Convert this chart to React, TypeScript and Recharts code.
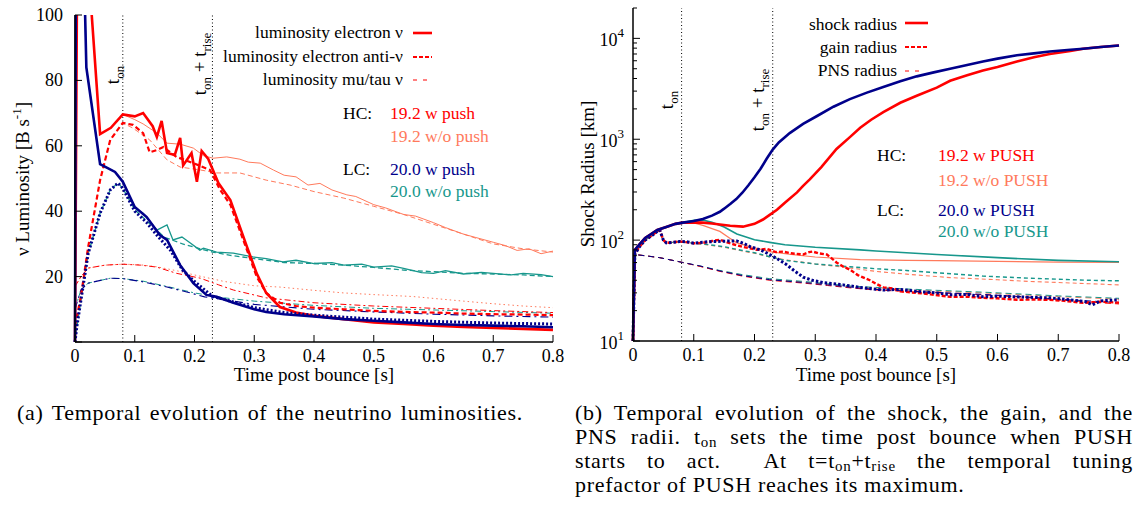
import React from "react";
import { LineChart, Line, XAxis, YAxis, ReferenceLine } from "recharts";

type Pt = [number, number];

const RED = "#ff0000";
const SALMON = "#ff7a5c";
const NAVY = "#00008b";
const TEAL = "#17978c";
const FONT = "Liberation Serif, Tinos, DejaVu Serif, serif";

const T_ON = 0.08;
const T_RISE_END = 0.23;

const timeTicks = [0, 0.1, 0.2, 0.3, 0.4, 0.5, 0.6, 0.7, 0.8];
const lumTicks = [0, 20, 40, 60, 80, 100];
const radTicks = [
  10, 20, 30, 40, 50, 60, 70, 80, 90,
  100, 200, 300, 400, 500, 600, 700, 800, 900,
  1000, 2000, 3000, 4000, 5000, 6000, 7000, 8000, 9000,
  10000, 20000,
];

// (a) luminosities [B/s]; before t_on the runs with and without push coincide
const nueHcEarly: Pt[] = [[0, 0], [0.004, 130], [0.02, 121], [0.028, 100], [0.042, 63.6], [0.06, 65.5], [0.08, 69.6]];
const nueHcPush: Pt[] = [...nueHcEarly, [0.1, 69], [0.114, 70], [0.13, 66], [0.137, 62.7], [0.145, 67.6], [0.154, 57.8], [0.167, 57.2], [0.176, 62.4], [0.181, 54], [0.195, 57.8], [0.204, 49], [0.212, 58.4], [0.223, 56], [0.24, 48.6], [0.26, 43.4], [0.288, 29], [0.304, 21], [0.32, 15], [0.343, 10.7], [0.37, 9], [0.4, 8], [0.45, 7], [0.5, 6], [0.55, 5.5], [0.6, 5], [0.65, 4.6], [0.7, 4.3], [0.75, 4], [0.8, 3.7]];
const nueHcNo: Pt[] = [...nueHcEarly, [0.1, 68], [0.114, 66.7], [0.137, 63.9], [0.154, 60.8], [0.176, 60.5], [0.198, 59.3], [0.215, 57], [0.231, 56.2], [0.254, 56.6], [0.276, 55.9], [0.29, 55], [0.31, 54.7], [0.332, 52.6], [0.35, 51], [0.37, 50.5], [0.39, 48], [0.41, 48.5], [0.43, 46.5], [0.455, 45], [0.47, 44.5], [0.5, 42], [0.52, 41], [0.55, 39], [0.57, 38.5], [0.6, 36.5], [0.62, 35], [0.65, 33], [0.67, 32], [0.7, 30.5], [0.72, 29.5], [0.74, 28], [0.76, 28.5], [0.78, 27], [0.8, 27.8]];

const nuebHcEarly: Pt[] = [[0, 5], [0.01, 14], [0.022, 29], [0.042, 49.5], [0.059, 61.8], [0.08, 67]];
const nuebHcPush: Pt[] = [...nuebHcEarly, [0.097, 66.4], [0.114, 63.9], [0.125, 58], [0.137, 58.7], [0.148, 59.6], [0.17, 56.6], [0.198, 54.7], [0.226, 52.6], [0.243, 46.5], [0.26, 42], [0.288, 28], [0.304, 20], [0.32, 15], [0.343, 12], [0.37, 11], [0.4, 10.5], [0.45, 10], [0.5, 9.5], [0.55, 9.2], [0.6, 9], [0.65, 8.7], [0.7, 8.5], [0.75, 8.4], [0.8, 8.2]];
const nuebHcNo: Pt[] = [...nuebHcEarly, [0.097, 65.4], [0.125, 61.8], [0.154, 55.7], [0.176, 53.5], [0.21, 52.6], [0.237, 51.7], [0.276, 51.7], [0.32, 49.5], [0.36, 48], [0.4, 46], [0.45, 44], [0.5, 41.5], [0.55, 39], [0.6, 36], [0.65, 33], [0.7, 30], [0.75, 28.5], [0.8, 27.5]];

const nuxHcEarly: Pt[] = [[0, 17], [0.01, 20], [0.022, 22.6], [0.05, 23.5], [0.08, 23.8]];
const nuxHcPush: Pt[] = [...nuxHcEarly, [0.11, 23.5], [0.137, 22.9], [0.17, 21], [0.21, 19.5], [0.24, 17.5], [0.265, 15.9], [0.32, 13.5], [0.4, 12], [0.5, 11], [0.6, 10.3], [0.7, 9.6], [0.8, 9]];
const nuxHcNo: Pt[] = [...nuxHcEarly, [0.11, 23.6], [0.137, 23], [0.17, 21.8], [0.2, 20.5], [0.25, 18.5], [0.3, 17.2], [0.343, 16.8], [0.4, 15.8], [0.45, 15], [0.5, 14.5], [0.566, 13.9], [0.65, 12.5], [0.7, 11.7], [0.75, 11], [0.8, 10.5]];

const nueLcEarly: Pt[] = [[0, 0], [0.002, 160], [0.015, 115], [0.019, 84], [0.042, 54.4], [0.067, 52], [0.08, 49]];
const nueLcPush: Pt[] = [...nueLcEarly, [0.1, 41.3], [0.12, 38.2], [0.142, 32.7], [0.154, 31.2], [0.176, 23.5], [0.198, 18], [0.22, 14.4], [0.237, 13.8], [0.265, 12], [0.3, 10], [0.32, 9.2], [0.35, 8.5], [0.4, 7.8], [0.45, 7], [0.5, 6.5], [0.55, 6], [0.6, 5.5], [0.65, 5.2], [0.7, 5], [0.75, 4.8], [0.8, 4.5]];
const nueLcNo: Pt[] = [...nueLcEarly, [0.1, 41], [0.114, 39.4], [0.137, 34.2], [0.154, 35.8], [0.164, 31.2], [0.179, 32.1], [0.193, 30.3], [0.209, 28.1], [0.215, 28.7], [0.237, 27.5], [0.265, 27.2], [0.298, 26], [0.32, 25.5], [0.348, 24.5], [0.37, 25], [0.4, 24], [0.43, 24.3], [0.45, 23.5], [0.48, 23.8], [0.5, 22.9], [0.53, 23.3], [0.55, 22.5], [0.58, 21.2], [0.6, 21], [0.62, 21.8], [0.65, 20.8], [0.68, 21.3], [0.7, 21], [0.73, 20.5], [0.75, 21], [0.78, 20.6], [0.8, 20]];

const nuebLcEarly: Pt[] = [[0, 0], [0.003, 4.6], [0.022, 27], [0.042, 39.4], [0.059, 46.5], [0.072, 48.6], [0.08, 47]];
const nuebLcPush: Pt[] = [...nuebLcEarly, [0.1, 40], [0.12, 36.5], [0.14, 32], [0.16, 28], [0.18, 22], [0.2, 18.5], [0.23, 14], [0.26, 12.5], [0.3, 10.5], [0.35, 9], [0.4, 8.2], [0.5, 7], [0.6, 6.3], [0.7, 5.8], [0.8, 5.5]];
const nuebLcNo: Pt[] = [...nuebLcEarly, [0.1, 40.5], [0.12, 37], [0.15, 32], [0.18, 30], [0.2, 29], [0.23, 27.5], [0.26, 26.5], [0.3, 25.5], [0.35, 24.3], [0.4, 24], [0.45, 23.5], [0.5, 22.8], [0.55, 22], [0.6, 21.5], [0.65, 21], [0.7, 20.8], [0.75, 20.5], [0.8, 20]];

const nuxLcEarly: Pt[] = [[0, 10], [0.01, 16], [0.022, 18], [0.059, 19.5], [0.08, 19.4]];
const nuxLcPush: Pt[] = [...nuxLcEarly, [0.114, 18.4], [0.154, 16.8], [0.187, 15.3], [0.217, 13.8], [0.265, 12.5], [0.3, 11.5], [0.4, 10], [0.5, 9.2], [0.6, 8.5], [0.7, 8], [0.8, 7.6]];
const nuxLcNo: Pt[] = [...nuxLcEarly, [0.114, 18.6], [0.154, 17], [0.2, 15], [0.25, 13.5], [0.3, 12.5], [0.4, 11.2], [0.5, 10.3], [0.6, 9.8], [0.7, 9.3], [0.8, 8.8]];

// (b) radii [km]
const shockEarly: Pt[] = [[0, 10], [0.003, 80], [0.01, 90], [0.02, 105], [0.028, 113], [0.04, 126], [0.056, 136], [0.07, 145], [0.082, 149]];
const shockHcPush: Pt[] = [...shockEarly, [0.1, 150], [0.115, 149], [0.13, 146], [0.143, 143], [0.16, 139], [0.181, 136], [0.2, 145], [0.214, 160], [0.225, 178], [0.237, 200], [0.25, 235], [0.27, 297], [0.28, 345], [0.291, 400], [0.31, 530], [0.335, 800], [0.357, 1050], [0.374, 1300], [0.392, 1560], [0.412, 1860], [0.44, 2300], [0.467, 2700], [0.5, 3250], [0.522, 3800], [0.55, 4300], [0.576, 4800], [0.6, 5200], [0.632, 5900], [0.66, 6500], [0.686, 7000], [0.72, 7500], [0.741, 7900], [0.77, 8200], [0.8, 8500]];
const shockLcPush: Pt[] = [...shockEarly, [0.1, 155], [0.115, 162], [0.13, 175], [0.143, 191], [0.15, 205], [0.16, 228], [0.17, 255], [0.18, 295], [0.19, 350], [0.2, 420], [0.21, 510], [0.22, 640], [0.23, 790], [0.24, 930], [0.258, 1150], [0.28, 1420], [0.303, 1700], [0.33, 2100], [0.357, 2500], [0.385, 2900], [0.412, 3300], [0.44, 3750], [0.467, 4200], [0.495, 4600], [0.522, 5000], [0.55, 5450], [0.576, 5900], [0.6, 6300], [0.632, 6800], [0.66, 7100], [0.686, 7400], [0.72, 7700], [0.741, 7900], [0.77, 8200], [0.8, 8500]];
const shockHcNo: Pt[] = [...shockEarly, [0.1, 148], [0.115, 140], [0.13, 130], [0.143, 122], [0.16, 104], [0.171, 94], [0.2, 84], [0.225, 77], [0.26, 72], [0.3, 68], [0.374, 64], [0.45, 63], [0.5, 62.5], [0.6, 61.5], [0.7, 60.5], [0.8, 60]];
const shockLcNo: Pt[] = [...shockEarly, [0.1, 157], [0.115, 158], [0.13, 150], [0.15, 135], [0.171, 115], [0.2, 101], [0.225, 95], [0.25, 90], [0.3, 85], [0.374, 80], [0.4, 78], [0.5, 72], [0.6, 67], [0.7, 63], [0.8, 61]];

const gainEarly: Pt[] = [[0, 10], [0.003, 72], [0.01, 85], [0.02, 100], [0.03, 110], [0.04, 122], [0.044, 126], [0.05, 100], [0.055, 94], [0.065, 95], [0.077, 97]];
const gainHcPush: Pt[] = [...gainEarly, [0.09, 95], [0.1, 93], [0.115, 94], [0.13, 98], [0.143, 101], [0.155, 95], [0.165, 91], [0.18, 86], [0.204, 80], [0.22, 82], [0.235, 76], [0.247, 77], [0.26, 74], [0.28, 72], [0.29, 76], [0.296, 77], [0.305, 74], [0.319, 72], [0.327, 66], [0.335, 60], [0.345, 55], [0.357, 51], [0.37, 45], [0.39, 40], [0.4, 37], [0.412, 34], [0.43, 33], [0.44, 31], [0.467, 30], [0.49, 29], [0.522, 27.4], [0.55, 27.5], [0.576, 26.8], [0.6, 26.5], [0.632, 25.6], [0.66, 25.8], [0.686, 25.6], [0.71, 25], [0.741, 23.9], [0.77, 24.5], [0.8, 24]];
const gainLcPush: Pt[] = [...gainEarly, [0.09, 96], [0.1, 93], [0.12, 96], [0.14, 97], [0.16, 98], [0.171, 98], [0.182, 93], [0.193, 86], [0.21, 80], [0.225, 72], [0.24, 64], [0.253, 57], [0.265, 50], [0.28, 43], [0.295, 40], [0.313, 38], [0.33, 37], [0.346, 36], [0.374, 34], [0.412, 32], [0.44, 32.5], [0.467, 31], [0.5, 30], [0.522, 28.7], [0.55, 29], [0.576, 27.4], [0.6, 27.8], [0.632, 27.4], [0.66, 27], [0.686, 26.8], [0.72, 25.6], [0.745, 24.5], [0.756, 22.8], [0.77, 25], [0.8, 25.6]];
const gainHcNo: Pt[] = [...gainEarly, [0.09, 95], [0.1, 93], [0.12, 90], [0.15, 85], [0.18, 78], [0.2, 74], [0.225, 68], [0.25, 64], [0.3, 58], [0.357, 53], [0.4, 49], [0.45, 46], [0.522, 42.5], [0.6, 40.5], [0.65, 39], [0.7, 38], [0.75, 37], [0.8, 36]];
const gainLcNo: Pt[] = [...gainEarly, [0.09, 95], [0.1, 93], [0.12, 91], [0.15, 86], [0.18, 79], [0.2, 75], [0.225, 68.5], [0.25, 63], [0.3, 58], [0.357, 54.5], [0.4, 52], [0.45, 50], [0.5, 47.5], [0.576, 44], [0.65, 42], [0.7, 41], [0.75, 40], [0.8, 39.5]];

const pnsEarly: Pt[] = [[0, 10], [0.003, 72], [0.02, 70], [0.044, 67], [0.082, 60]];
const pnsHcPush: Pt[] = [...pnsEarly, [0.11, 55], [0.143, 49], [0.18, 44], [0.225, 40], [0.28, 37.5], [0.32, 35.5], [0.36, 33.5], [0.4, 32], [0.45, 31], [0.5, 30], [0.576, 28.7], [0.65, 27], [0.7, 25.5], [0.8, 23.3]];
const pnsLcPush: Pt[] = [...pnsEarly, [0.11, 55.5], [0.143, 49.5], [0.18, 44.5], [0.225, 40.5], [0.28, 38], [0.32, 36], [0.36, 34], [0.4, 32.5], [0.45, 31.3], [0.5, 30.3], [0.576, 29], [0.65, 27.3], [0.7, 26], [0.8, 24]];
const pnsHcNo: Pt[] = [...pnsEarly, [0.11, 55], [0.143, 49.5], [0.18, 45], [0.225, 41], [0.28, 38.5], [0.32, 36.5], [0.36, 34.5], [0.4, 33.5], [0.45, 32.3], [0.5, 31.2], [0.576, 30], [0.65, 28.5], [0.7, 27.5], [0.8, 26]];
const pnsLcNo: Pt[] = [...pnsEarly, [0.11, 55.5], [0.143, 50], [0.18, 45.5], [0.225, 41.5], [0.28, 39], [0.32, 37], [0.36, 35], [0.4, 34], [0.45, 32.8], [0.5, 31.8], [0.576, 30.5], [0.65, 29], [0.7, 28], [0.8, 26.5]];

interface SeriesSpec {
  key: string;
  data: Pt[];
  color: string;
  width: number;
  dash?: string;
}

// drawn in this order, thin lines first
const lumSeries: SeriesSpec[] = [
  { key: "nuxHcNo", data: nuxHcNo, color: SALMON, width: 1, dash: "1.5 3" },
  { key: "nuxLcNo", data: nuxLcNo, color: TEAL, width: 1, dash: "6 3 2 3" },
  { key: "nuxHcPush", data: nuxHcPush, color: RED, width: 1, dash: "6 3 2 3" },
  { key: "nuxLcPush", data: nuxLcPush, color: NAVY, width: 1.1, dash: "8 4 2 4" },
  { key: "nuebHcNo", data: nuebHcNo, color: SALMON, width: 1, dash: "5 3" },
  { key: "nueHcNo", data: nueHcNo, color: SALMON, width: 1 },
  { key: "nuebLcNo", data: nuebLcNo, color: TEAL, width: 1.3, dash: "5 3" },
  { key: "nueLcNo", data: nueLcNo, color: TEAL, width: 1.3 },
  { key: "nuebHcPush", data: nuebHcPush, color: RED, width: 2.2, dash: "5 3" },
  { key: "nueHcPush", data: nueHcPush, color: RED, width: 2.6 },
  { key: "nuebLcPush", data: nuebLcPush, color: NAVY, width: 3, dash: "2 2" },
  { key: "nueLcPush", data: nueLcPush, color: NAVY, width: 2.6 },
];

const radSeries: SeriesSpec[] = [
  { key: "pnsHcNo", data: pnsHcNo, color: SALMON, width: 1, dash: "6 4" },
  { key: "pnsLcNo", data: pnsLcNo, color: TEAL, width: 1, dash: "6 4" },
  { key: "pnsHcPush", data: pnsHcPush, color: RED, width: 1, dash: "6 4" },
  { key: "pnsLcPush", data: pnsLcPush, color: NAVY, width: 1, dash: "6 4" },
  { key: "gainHcNo", data: gainHcNo, color: SALMON, width: 1.1, dash: "4 3" },
  { key: "gainLcNo", data: gainLcNo, color: TEAL, width: 1.4, dash: "4 3" },
  { key: "shockHcNo", data: shockHcNo, color: SALMON, width: 1.2 },
  { key: "shockLcNo", data: shockLcNo, color: TEAL, width: 1.6 },
  { key: "gainHcPush", data: gainHcPush, color: RED, width: 2.4, dash: "4 2" },
  { key: "gainLcPush", data: gainLcPush, color: NAVY, width: 3, dash: "2.5 2" },
  { key: "shockHcPush", data: shockHcPush, color: RED, width: 2.6 },
  { key: "shockLcPush", data: shockLcPush, color: NAVY, width: 2.6 },
];

const toRows = (pts: Pt[]) => pts.map(([t, v]) => ({ t, v }));

const FRAME = { stroke: "#000", strokeWidth: 1.5 };
const GUIDE_DASH = "1 2.5";

function BottomTick(props: any) {
  const { x, y, payload } = props;
  return (
    <g>
      <line x1={x} x2={x} y1={y} y2={y - 7} stroke="#000" />
      <text x={x} y={y + 20} textAnchor="middle" fontFamily={FONT} fontSize={18} fill="#000">
        {payload.value}
      </text>
    </g>
  );
}

function TopTick(props: any) {
  const { x, y } = props;
  return <line x1={x} x2={x} y1={y} y2={y + 7} stroke="#000" />;
}

function LinLeftTick(props: any) {
  const { x, y, payload } = props;
  return (
    <g>
      <line x1={x} x2={x + 7} y1={y} y2={y} stroke="#000" />
      {payload.value !== 0 && (
        <text x={x - 12} y={y + 6} textAnchor="end" fontFamily={FONT} fontSize={18} fill="#000">
          {payload.value}
        </text>
      )}
    </g>
  );
}

function LinRightTick(props: any) {
  const { x, y } = props;
  return <line x1={x} x2={x - 7} y1={y} y2={y} stroke="#000" />;
}

const isDecade = (v: number) => {
  const e = Math.log10(v);
  return Math.abs(e - Math.round(e)) < 1e-9;
};

function LogLeftTick(props: any) {
  const { x, y, payload } = props;
  const v = payload.value as number;
  const major = isDecade(v);
  return (
    <g>
      <line x1={x} x2={x + (major ? 7 : 4)} y1={y} y2={y} stroke="#000" />
      {major && (
        <text x={x - 9} y={y + 8} textAnchor="end" fontFamily={FONT} fontSize={18} fill="#000">
          <tspan>10</tspan>
          <tspan dy={-9} fontSize={13}>{Math.round(Math.log10(v))}</tspan>
        </text>
      )}
    </g>
  );
}

function LogRightTick(props: any) {
  const { x, y, payload } = props;
  const major = isDecade(payload.value);
  return <line x1={x} x2={x - (major ? 7 : 4)} y1={y} y2={y} stroke="#000" />;
}

function renderLines(series: SeriesSpec[]) {
  return series.map((s) => (
    <Line
      key={s.key}
      data={toRows(s.data)}
      dataKey="v"
      type="linear"
      stroke={s.color}
      strokeWidth={s.width}
      strokeDasharray={s.dash}
      dot={false}
      activeDot={false}
      isAnimationActive={false}
    />
  ));
}

function LuminosityChart() {
  return (
    <LineChart width={570} height={390} margin={{ top: 15, right: 17, bottom: 0, left: 0 }}>
      <XAxis dataKey="t" type="number" domain={[0, 0.8]} ticks={timeTicks} interval={0} height={48}
        tickSize={0} tickMargin={0} tick={BottomTick} axisLine={FRAME} />
      <XAxis xAxisId="top" orientation="top" type="number" domain={[0, 0.8]} ticks={timeTicks} interval={0}
        height={0} tickSize={0} tickMargin={0} tick={TopTick} axisLine={FRAME} />
      <YAxis type="number" domain={[0, 100]} ticks={lumTicks} interval={0} width={75} allowDataOverflow
        tickSize={0} tickMargin={0} tick={LinLeftTick} axisLine={FRAME} />
      <YAxis yAxisId="right" orientation="right" type="number" domain={[0, 100]} ticks={lumTicks} interval={0}
        width={0} tickSize={0} tickMargin={0} tick={LinRightTick} axisLine={FRAME} />
      <ReferenceLine x={T_ON} stroke="#000" strokeDasharray={GUIDE_DASH} />
      <ReferenceLine x={T_RISE_END} stroke="#000" strokeDasharray={GUIDE_DASH} />
      {renderLines(lumSeries)}
    </LineChart>
  );
}

function RadiusChart() {
  return (
    <LineChart width={569} height={390} margin={{ top: 8, right: 20, bottom: 0, left: 0 }}>
      <XAxis dataKey="t" type="number" domain={[0, 0.8]} ticks={timeTicks} interval={0} height={49}
        tickSize={0} tickMargin={0} tick={BottomTick} axisLine={FRAME} />
      <XAxis xAxisId="top" orientation="top" type="number" domain={[0, 0.8]} ticks={timeTicks} interval={0}
        height={0} tickSize={0} tickMargin={0} tick={TopTick} axisLine={FRAME} />
      <YAxis type="number" scale="log" domain={[10, 20000]} ticks={radTicks} interval={0} width={63} allowDataOverflow
        tickSize={0} tickMargin={0} tick={LogLeftTick} axisLine={FRAME} />
      <YAxis yAxisId="right" orientation="right" type="number" scale="log" domain={[10, 20000]} ticks={radTicks}
        interval={0} width={0} tickSize={0} tickMargin={0} tick={LogRightTick} axisLine={FRAME} />
      <ReferenceLine x={T_ON} stroke="#000" strokeDasharray={GUIDE_DASH} />
      <ReferenceLine x={T_RISE_END} stroke="#000" strokeDasharray={GUIDE_DASH} />
      {renderLines(radSeries)}
    </LineChart>
  );
}

const txt = { fontFamily: FONT, fill: "#000" };

function Overlay() {
  return (
    <svg width={1139} height={390} style={{ position: "absolute", left: 0, top: 0, pointerEvents: "none" }}>
      {/* panel (a) key */}
      <g {...txt} fontSize={17.5} textAnchor="end">
        <text x={403} y={38}>luminosity electron ν</text>
        <text x={403} y={62}>luminosity electron anti-ν</text>
        <text x={403} y={85}>luminosity mu/tau ν</text>
      </g>
      <line x1={413} x2={432} y1={33} y2={33} stroke={RED} strokeWidth={2.6} />
      <line x1={413} x2={432} y1={57} y2={57} stroke={RED} strokeWidth={2.2} strokeDasharray="4 2" />
      <line x1={413} x2={430} y1={80} y2={80} stroke={RED} strokeWidth={1} strokeDasharray="4 6" />
      <g fontFamily={FONT} fontSize={17.5}>
        <text x={343} y={119} fill="#000">HC:</text>
        <text x={390} y={119} fill={RED}>19.2 w push</text>
        <text x={390} y={142} fill={SALMON}>19.2 w/o push</text>
        <text x={343} y={175} fill="#000">LC:</text>
        <text x={390} y={175} fill={NAVY}>20.0 w push</text>
        <text x={390} y={197} fill={TEAL}>20.0 w/o push</text>
      </g>
      <g {...txt} fontSize={19} textAnchor="middle">
        <text transform="translate(29,179) rotate(-90)">
          ν Luminosity [B s<tspan dy={-8} fontSize={13}>-1</tspan><tspan dy={8}>]</tspan>
        </text>
        <text x={314} y={381}>Time post bounce [s]</text>
        <text transform="translate(119,75) rotate(-90)">
          t<tspan dy={5} fontSize={13}>on</tspan>
        </text>
        <text transform="translate(206,64) rotate(-90)">
          t<tspan dy={5} fontSize={13}>on</tspan><tspan dy={-5}> + t</tspan><tspan dy={5} fontSize={13}>rise</tspan>
        </text>
      </g>

      {/* panel (b) key */}
      <g {...txt} fontSize={17.5} textAnchor="end">
        <text x={897} y={30}>shock radius</text>
        <text x={897} y={53}>gain radius</text>
        <text x={897} y={76}>PNS radius</text>
      </g>
      <line x1={905} x2={928} y1={23} y2={23} stroke={RED} strokeWidth={2.6} />
      <line x1={905} x2={928} y1={47} y2={47} stroke={RED} strokeWidth={2.2} strokeDasharray="4 2" />
      <line x1={905} x2={924} y1={71} y2={71} stroke={RED} strokeWidth={1} strokeDasharray="4 6" />
      <g fontFamily={FONT} fontSize={17.5}>
        <text x={877} y={161} fill="#000">HC:</text>
        <text x={938} y={161} fill={RED}>19.2 w PUSH</text>
        <text x={938} y={186} fill={SALMON}>19.2 w/o PUSH</text>
        <text x={877} y={216} fill="#000">LC:</text>
        <text x={938} y={216} fill={NAVY}>20.0 w PUSH</text>
        <text x={938} y={237} fill={TEAL}>20.0 w/o PUSH</text>
      </g>
      <g {...txt} fontSize={19} textAnchor="middle">
        <text transform="translate(594,174) rotate(-90)">Shock Radius [km]</text>
        <text x={876} y={381}>Time post bounce [s]</text>
        <text transform="translate(673,100) rotate(-90)">
          t<tspan dy={5} fontSize={13}>on</tspan>
        </text>
        <text transform="translate(764,100) rotate(-90)">
          t<tspan dy={5} fontSize={13}>on</tspan><tspan dy={-5}> + t</tspan><tspan dy={5} fontSize={13}>rise</tspan>
        </text>
      </g>
    </svg>
  );
}

const sub = { fontSize: 15, verticalAlign: "-3px" } as const;
const capLine = {
  position: "absolute" as const,
  fontFamily: FONT,
  fontSize: 22,
  lineHeight: "24px",
  letterSpacing: 0.7,
  color: "#000",
};
const justified = { textAlign: "justify" as const, textAlignLast: "justify" as const };

export default function App() {
  return (
    <div style={{ position: "absolute", left: 0, top: 0, width: 1139, height: 515, background: "#fff" }}>
      <div style={{ position: "absolute", left: 0, top: 0 }}>
        <LuminosityChart />
      </div>
      <div style={{ position: "absolute", left: 570, top: 0 }}>
        <RadiusChart />
      </div>
      <Overlay />
      <div style={{ ...capLine, ...justified, left: 17, top: 401, width: 506 }}>
        (a) Temporal evolution of the neutrino luminosities.
      </div>
      <div style={{ ...capLine, ...justified, left: 575, top: 401, width: 558 }}>
        (b) Temporal evolution of the shock, the gain, and the
      </div>
      <div style={{ ...capLine, ...justified, left: 575, top: 425, width: 558 }}>
        PNS radii. t<span style={sub}>on</span> sets the time post bounce when PUSH
      </div>
      <div style={{ ...capLine, ...justified, left: 575, top: 449, width: 558 }}>
        starts to act. &nbsp;At t=t<span style={sub}>on</span>+t<span style={sub}>rise</span> the temporal tuning
      </div>
      <div style={{ ...capLine, left: 575, top: 473, whiteSpace: "nowrap" }}>
        prefactor of PUSH reaches its maximum.
      </div>
    </div>
  );
}
